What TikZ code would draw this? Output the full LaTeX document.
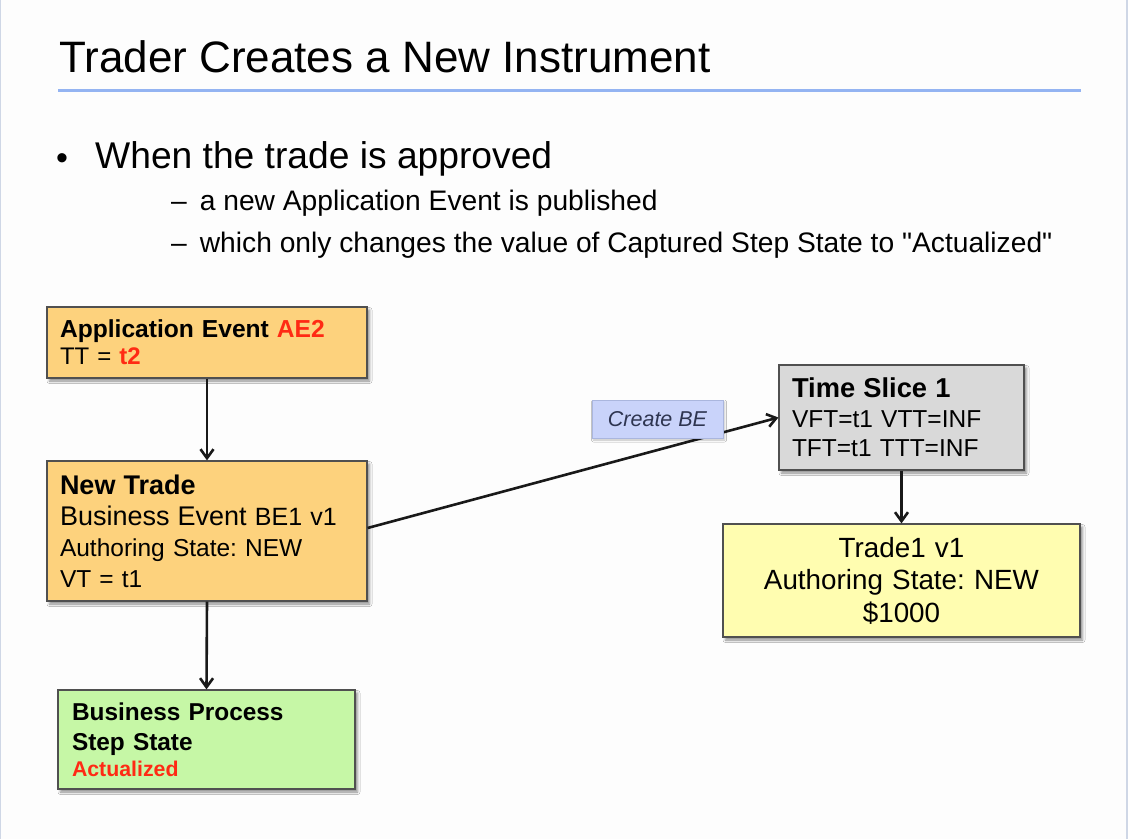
\documentclass[tikz,border=0pt]{standalone}
\usepackage{fontspec}
\setmainfont{Liberation Sans}
\newfontfamily\plainquote{Liberation Sans}[Ligatures=TeXOff]
\usetikzlibrary{arrows.meta,shadows.blur}

\definecolor{pagebg}{HTML}{FDFDFD}
\definecolor{frameline}{HTML}{CFD7E6}
\definecolor{rulecol}{HTML}{94B4F2}
\definecolor{eventfill}{HTML}{FDD27D}
\definecolor{slicefill}{HTML}{D9D9D9}
\definecolor{tradefill}{HTML}{FFFDB0}
\definecolor{stepfill}{HTML}{C6F7A6}
\definecolor{labelfill}{HTML}{C9D3FA}
\definecolor{labelline}{HTML}{AAB6DE}
\definecolor{labeltext}{HTML}{2E3550}
\definecolor{accent}{HTML}{FF2A14}
\definecolor{boxline}{HTML}{505050}

\newcommand\fsz[2]{\fontsize{#1}{#2}\selectfont}
\newcommand\dq{{\plainquote\char34}}
\frenchspacing

\begin{document}
\begin{tikzpicture}[x=1pt,y=-1pt,
  box/.style={draw=boxline, line width=1.2pt, inner sep=0pt,
    blur shadow={shadow xshift=2.5pt, shadow yshift=-3pt,
      shadow blur radius=2.5pt, shadow opacity=45}},
  flow/.style={draw=black!90, line width=2.6pt,
    -{Straight Barb[length=9pt,width=13pt]}},
  heading/.style={anchor=base west, inner sep=0pt},
  tag/.style={draw=labelline, fill=labelfill, line width=0.9pt, inner sep=0pt,
    text=labeltext, font=\fsz{21.5}{24}\itshape,
    blur shadow={shadow xshift=1.5pt, shadow yshift=-2pt,
      shadow blur radius=2pt, shadow opacity=25}}]

% page
\fill[pagebg] (0,0) rectangle (1128,839);
\useasboundingbox (0,0) rectangle (1128,839);
\fill[frameline] (0,0) rectangle (1,839);
\fill[frameline] (1126,0) rectangle (1128,839);

% title and bullets
\node[heading, font=\fsz{44}{50}] (title) at (59,72) {Trader Creates a New Instrument};
\draw[rulecol, line width=3pt] (58,90) -- (1081,90);

\node[heading, font=\fsz{34}{40}] (dot) at (56,169) {•};
\node[heading, font=\fsz{37.2}{44}] (point) at (95,168) {When the trade is approved};
\node[heading, font=\fsz{28.2}{36}] (sub1) at (171,210)
  {–\hspace{13pt}a new Application Event is published};
\node[heading, font=\fsz{28.2}{36}] (sub2) at (171,252)
  {–\hspace{13pt}which only changes the value of Captured Step State to \dq Actualized\dq};

% boxes
\node[box, fill=eventfill, minimum width=320pt, minimum height=71pt,
  text width=294pt, align=left, font=\fsz{24}{27}] (ae) at (207,342.5)
  {{\fsz{24.6}{27}\bfseries Application Event \textcolor{accent}{AE2}}\\
   TT = \textcolor{accent}{\bfseries t2}};

\node[box, fill=eventfill, minimum width=320pt, minimum height=140pt,
  text width=294pt, align=left, font=\fsz{24.5}{31}] (nt) at (207,531)
  {{\fsz{27}{31}\bfseries New Trade}\\
   {\fsz{27}{31}Business Event} {\fsz{25}{31}BE1 v1}\\
   Authoring State: NEW\\
   VT = t1};

\node[box, fill=stepfill, minimum width=297pt, minimum height=99pt,
  text width=269pt, align=left, font=\fsz{24.4}{30}\bfseries] (bp) at (206.5,739.5)
  {Business Process\\
   Step State\\[-4pt]
   {\fsz{21.3}{26}\color{accent}Actualized}};

\node[box, fill=slicefill, minimum width=245pt, minimum height=105pt,
  text width=219pt, align=left, font=\fsz{24.5}{29.5}] (ts) at (901.5,417.5)
  {{\fsz{27.3}{29.5}\bfseries Time Slice 1}\\
   VFT=t1 VTT=INF\\
   TFT=t1 TTT=INF};

\node[box, fill=tradefill, minimum width=357pt, minimum height=113pt,
  text width=330pt, align=center, font=\fsz{27.8}{32.5}] (trade) at (901.5,580.5)
  {Trade1 v1\\
   Authoring State: NEW\\
   \$1000};

% connectors
\draw[flow] (ae.south) -- (nt.north);
\draw[flow] (nt.south) -- (bp.north);
\draw[flow] ([yshift=3pt]nt.east) -- (ts.west);
\draw[flow] (ts.south) -- (trade.north);

% label over the creation link
\node[tag, minimum width=131pt, minimum height=38pt] (createbe) at (657.5,419) {Create BE};

\end{tikzpicture}
\end{document}
